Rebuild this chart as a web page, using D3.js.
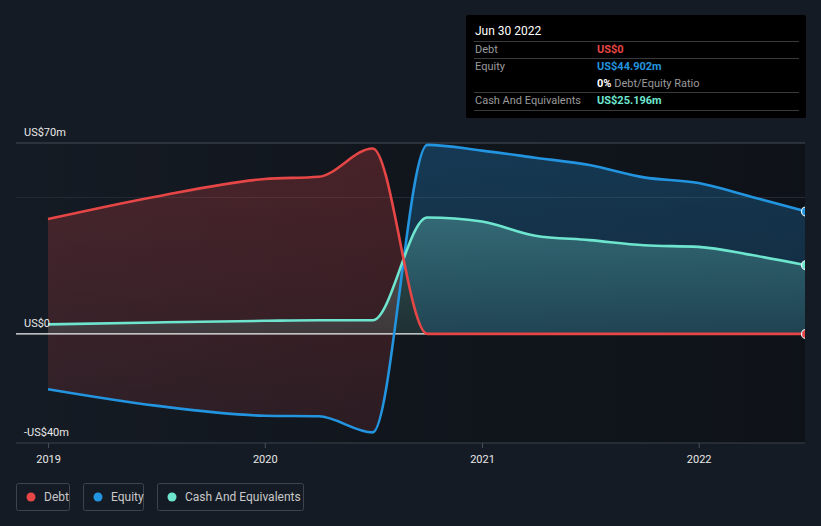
<!DOCTYPE html>
<html><head><meta charset="utf-8">
<script src="https://cdn.jsdelivr.net/npm/d3@7/dist/d3.min.js"></script>
<style>
html,body{margin:0;padding:0;background:#151b24;}
svg{display:block;font-family:Roboto,"Noto Sans",sans-serif;}
</style></head>
<body><svg id="c" width="821" height="526"></svg>
<script>
const dates = ["2018-12-31","2019-06-30","2019-12-31","2020-03-31","2020-06-30","2020-09-30","2020-12-31","2021-03-31","2021-06-30","2021-09-30","2021-12-31","2022-03-31","2022-06-30"];
const debt   = [42.1, 50.3, 56.8, 57.6, 68.0, 0, 0, 0, 0, 0, 0, 0, 0];
const equity = [-20.3, -26.3, -30.0, -30.2, -36.1, 69.3, 67.2, 64.6, 61.9, 57.4, 55.3, 50.2, 44.902];
const cash   = [3.5, 4.2, 4.8, 5.0, 5.0, 42.7, 41.2, 36.0, 34.4, 32.5, 31.9, 28.9, 25.196];
const yTicks = [70, 0, -40];
const yTickLabels = ["US$70m", "US$0", "-US$40m"];
const gridVals = [70, 50];
const xTickYears = [2019, 2020, 2021, 2022];
const seriesNames = ["Debt", "Equity", "Cash And Equivalents"];
const seriesColors = ["#e64646", "#2394df", "#6ee6cf"];
const tipTitle = "Jun 30 2022";
const tipRows = [
  {label:"Debt", value:"US$0", color:"#e64646"},
  {label:"Equity", value:"US$44.902m", color:"#2394df"},
  {label:"", value:"0%", extra:" Debt/Equity Ratio", color:"#ffffff"},
  {label:"Cash And Equivalents", value:"US$25.196m", color:"#6ee6cf"}
];

const svg = d3.select("#c");
const parse = d3.utcParse("%Y-%m-%d");
const data = dates.map((d,i)=>({date:parse(d), debt:debt[i], equity:equity[i], cash:cash[i]}));

const L = 16, R = 805, T = 143, B = 443;
const x = d3.scaleUtc().domain([parse("2018-12-31"), parse("2022-06-30")]).range([48, 806]);
const y = d3.scaleLinear().domain([-40, 70]).range([B, T]);

const defs = svg.append("defs");
defs.append("clipPath").attr("id","plot").append("rect").attr("x",L).attr("y",0).attr("width",R-L).attr("height",B);
function grad(id, c, a1, a2){
  const g = defs.append("linearGradient").attr("id",id).attr("x1",0).attr("y1",0).attr("x2",0).attr("y2",1);
  g.append("stop").attr("offset","0%").attr("stop-color",c).attr("stop-opacity",a1);
  g.append("stop").attr("offset","100%").attr("stop-color",c).attr("stop-opacity",a2);
}
grad("gRed", "#e64646", 0.26, 0.12);
grad("gBlue", "#2394df", 0.28, 0.14);
grad("gCash", "#7ff0dc", 0.28, 0.12);
const bgG = defs.append("linearGradient").attr("id","gBg").attr("x1",0).attr("y1",0).attr("x2",1).attr("y2",0);
bgG.append("stop").attr("offset","0%").attr("stop-color","#000").attr("stop-opacity",0);
bgG.append("stop").attr("offset","50%").attr("stop-color","#000").attr("stop-opacity",0.2);
bgG.append("stop").attr("offset","100%").attr("stop-color","#000").attr("stop-opacity",0.32);

// plot background darkening
svg.append("rect").attr("x",L).attr("y",T).attr("width",R-L).attr("height",B-T).attr("fill","url(#gBg)");

// gridlines
svg.append("g").selectAll("line").data(gridVals).join("line")
  .attr("x1",L).attr("x2",R).attr("y1",d=>y(d)).attr("y2",d=>y(d))
  .attr("stroke",(d,i)=>i===0?"#474d57":"#262c36").attr("stroke-width",1);
// bottom axis line
svg.append("line").attr("x1",L).attr("x2",R).attr("y1",B).attr("y2",B).attr("stroke","#3c424c");

const curve = d3.curveMonotoneX;
const plot = svg.append("g").attr("clip-path","url(#plot)");

// clip regions above/below debt curve
defs.append("clipPath").attr("id","belowDebt").append("path")
  .attr("d", d3.area().curve(curve).x(d=>x(d.date)).y0(B+20).y1(d=>y(d.debt))(data));
defs.append("clipPath").attr("id","aboveDebt").append("path")
  .attr("d", d3.area().curve(curve).x(d=>x(d.date)).y0(0).y1(d=>y(d.debt))(data));

const between = d3.area().curve(curve).x(d=>x(d.date)).y0(d=>y(d.equity)).y1(d=>y(d.debt));
plot.append("g").attr("clip-path","url(#belowDebt)").append("path").attr("d",between(data)).attr("fill","url(#gRed)");
plot.append("g").attr("clip-path","url(#aboveDebt)").append("path").attr("d",between(data)).attr("fill","url(#gBlue)");

// cash area
plot.append("path").attr("d", d3.area().curve(curve).x(d=>x(d.date)).y0(y(0)).y1(d=>y(d.cash))(data))
  .attr("fill","url(#gCash)");

// zero line
plot.append("line").attr("x1",L).attr("x2",R).attr("y1",y(0)).attr("y2",y(0)).attr("stroke","#f2f2f2").attr("stroke-width",1.2);

const keys = ["debt","equity","cash"];
const order = ["equity","cash","debt"];
order.forEach(k=>{
  const i = keys.indexOf(k);
  plot.append("path").attr("d", d3.line().curve(curve).x(d=>x(d.date)).y(d=>y(d[k]))(data))
    .attr("fill","none").attr("stroke",seriesColors[i]).attr("stroke-width",2.6);
});
keys.forEach((k,i)=>{
  const last = data[data.length-1];
  plot.append("circle").attr("cx",x(last.date)).attr("cy",y(last[k])).attr("r",4.5)
    .attr("fill",seriesColors[i]).attr("stroke","#e8f4f8").attr("stroke-width",1.2);
});

// y labels
svg.append("g").selectAll("text").data(yTicks).join("text")
  .attr("x",24).attr("y",d=>y(d)-7).attr("fill","#e8e8e8").attr("font-size",11).text((d,i)=>yTickLabels[i]);

// x axis ticks
const xt = svg.append("g");
xTickYears.forEach(yr=>{
  const xx = x(new Date(Date.UTC(yr,0,1)));
  xt.append("line").attr("x1",xx).attr("x2",xx).attr("y1",B).attr("y2",B+5).attr("stroke","#4a505a");
  xt.append("text").attr("x",xx).attr("y",463).attr("text-anchor","middle").attr("fill","#e8e8e8")
    .attr("font-size",11).text(yr);
});

// legend
const lg = svg.append("g");
let lx = 16;
const widths = [53, 60, 146];
seriesNames.forEach((n,i)=>{
  lg.append("rect").attr("x",lx+0.5).attr("y",483.5).attr("width",widths[i]).attr("height",27).attr("rx",2)
    .attr("fill","none").attr("stroke","#3e444e");
  lg.append("circle").attr("cx",lx+15).attr("cy",497).attr("r",4.5).attr("fill",seriesColors[i]);
  lg.append("text").attr("x",lx+28).attr("y",501).attr("fill","#c8c8c8").attr("font-size",12).text(n);
  lx += widths[i] + 14;
});

// tooltip
const tp = svg.append("g");
tp.append("rect").attr("x",466).attr("y",15).attr("width",340).attr("height",103).attr("fill","#000").attr("rx",2);
tp.append("text").attr("x",475).attr("y",35).attr("fill","#fff").attr("font-size",12).text(tipTitle);
[41.5, 58.5, 92.5, 110.5].forEach(ly=>{
  tp.append("line").attr("x1",474).attr("x2",799).attr("y1",ly).attr("y2",ly).attr("stroke","#3a3a3a");
});
const rowY = [53, 70, 87, 104];
tipRows.forEach((r,i)=>{
  tp.append("text").attr("x",475).attr("y",rowY[i]).attr("fill","#9a9a9a").attr("font-size",11).text(r.label);
  const t = tp.append("text").attr("x",597).attr("y",rowY[i]).attr("font-size",11);
  t.append("tspan").attr("fill",r.color).attr("font-weight","bold").text(r.value);
  if (r.extra) t.append("tspan").attr("fill","#9a9a9a").text(r.extra);
});
</script>
</body></html>
